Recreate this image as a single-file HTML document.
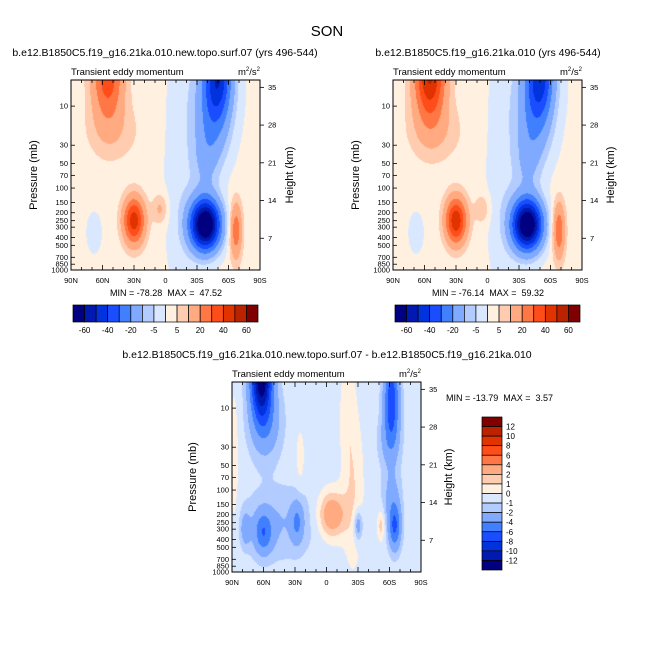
<!DOCTYPE html>
<html><head><meta charset="utf-8">
<style>
html,body{margin:0;padding:0;background:#fff;}
#wrap{position:relative;width:654px;height:654px;overflow:hidden;font-family:"Liberation Sans",sans-serif;}
canvas{position:absolute;}
svg{position:absolute;left:0;top:0;}
text{font-family:"Liberation Sans",sans-serif;fill:#000;white-space:pre;}
</style></head>
<body>
<div id="wrap">
<canvas id="c1" width="189" height="190" style="left:71px;top:80px"></canvas>
<canvas id="c2" width="189" height="190" style="left:393px;top:80px"></canvas>
<canvas id="c3" width="189" height="190" style="left:232px;top:382px"></canvas>
<svg id="s" width="654" height="654"></svg>
</div>
<script>
// ---- data ----
const palette = ["#000080","#0019b0","#0033dd","#1a4dff","#4080ff","#80aaff","#b3ccff","#d9e8ff","#fff0e0","#ffccb0","#ffaa80","#ff7744","#ff4d1a","#e03300","#bb2200","#800000"];
const levelsFull = [-60,-50,-40,-30,-20,-10,-5,0,5,10,20,30,40,50,60];
const levelsDiff = [-12,-10,-8,-6,-4,-2,-1,0,1,2,4,6,8,10,12];
const pressureTicks = [10,30,50,70,100,150,200,250,300,400,500,700,850,1000];
const heightTicks = [7,14,21,28,35];
const latTicks = [90,60,30,0,-30,-60,-90];
const latLabels = ["90N","60N","30N","0","30S","60S","90S"];
// blob features: lat, pressure(mb), amplitude
const p1Lat = [55,50,-50,-45,-38,-40,-15,30,-38,-67,5,68];
const p1Pres= [4,20,4,15,50,5,150,250,280,330,180,350];
const p1Amp = [35,6,-42,-18,-8,-6,-5,44,-80,25,10,-6];
const p1Base = 2;
const p2Lat = [55,50,-50,-45,-38,-40,-15,30,-38,-68,5,68];
const p2Pres= [4,20,4,15,50,5,150,250,280,330,180,350];
const p2Amp = [50,7,-40,-16,-8,-6,-5,46,-78,26,8,-6];
const p2Base = 2;
const p3Lat = [62,58,-62,-60,-25,-20,25,88,60,77,28,45,-5,-30,-52,-65,-62];
const p3Pres= [4,15,8,25,100,10,40,50,330,300,250,250,200,270,270,280,120];
const p3Amp = [-13,-3,-7,-2,1.5,1.0,1.0,1.2,-4.5,-2.5,-3,-1.5,4,-3,2,-5.5,-2];
const p3Base = -0.5;
const widthsLat1 = [10,18,9,11,8,22,12,7,10,4,5,5];
const widthsLnp1 = [0.9,0.6,0.8,0.9,0.6,1.5,2,0.45,0.5,0.55,0.3,0.4];
const widthsLat3 = [7,10,5,7,7,5,3,3,6,3,4,25,9,3,2.5,4,6];
const widthsLnp3 = [0.8,0.7,0.8,0.5,1.5,1.0,0.6,1.5,0.4,0.3,0.4,0.7,0.45,0.3,0.3,0.45,0.6];

const PTOP = 4.8, PBOT = 1000;
function makeField(lats,pres,amps,wl,wp,base){
  return function(lat,lnp){
    let v=base;
    for(let i=0;i<lats.length;i++){
      const a=(lat-lats[i])/wl[i], b=(lnp-Math.log(pres[i]))/wp[i];
      v+=amps[i]*Math.exp(-0.5*(a*a+b*b));
    }
    return v;
  };
}
function hexRGB(h){return [parseInt(h.substr(1,2),16),parseInt(h.substr(3,2),16),parseInt(h.substr(5,2),16)];}
const palRGB = palette.map(hexRGB);
function levelIndex(v,levels){let k=0;while(k<levels.length&&v>=levels[k])k++;return k;}
function drawField(id,f,levels){
  const c=document.getElementById(id),ctx=c.getContext('2d');
  const W=c.width,H=c.height,img=ctx.createImageData(W,H);
  const l0=Math.log(PTOP),l1=Math.log(PBOT);
  for(let j=0;j<H;j++){
    const lnp=l0+(j+0.5)/H*(l1-l0);
    for(let i=0;i<W;i++){
      const lat=90-(i+0.5)/W*180;
      const col=palRGB[levelIndex(f(lat,lnp),levels)];
      const o=(j*W+i)*4;img.data[o]=col[0];img.data[o+1]=col[1];img.data[o+2]=col[2];img.data[o+3]=255;
    }
  }
  ctx.putImageData(img,0,0);
}
drawField('c1',makeField(p1Lat,p1Pres,p1Amp,widthsLat1,widthsLnp1,p1Base),levelsFull);
drawField('c2',makeField(p2Lat,p2Pres,p2Amp,widthsLat1,widthsLnp1,p2Base),levelsFull);
drawField('c3',makeField(p3Lat,p3Pres,p3Amp,widthsLat3,widthsLnp3,p3Base),levelsDiff);

// ---- annotations ----
const S=document.getElementById('s'),NS='http://www.w3.org/2000/svg';
function el(tag,attrs,txt){const e=document.createElementNS(NS,tag);for(const k in attrs)e.setAttribute(k,attrs[k]);if(txt!==undefined)e.textContent=txt;S.appendChild(e);return e;}
function T(x,y,s,size,anchor,name,extra){const e=el('text',Object.assign({x:x,y:y,'font-size':size,'text-anchor':anchor||'start'},extra||{}),s);


return e;}

T(327,36,"SON",15,"middle","figure-title");

function panel(x0,y0,w,h,title,titleX,minmax,mmX,mmY,mmAnchor,pLabX,hLabX,pfx){
  const xOf=lat=>x0+(90-lat)/180*w;
  const yOf=p=>y0+(Math.log(p)-Math.log(PTOP))/(Math.log(PBOT)-Math.log(PTOP))*h;
  const yOfZ=z=>y0+h+6-z*5.39;
  T(titleX,y0-24,title,10.5,"middle",pfx+"-title");
  T(x0,y0-5,"Transient eddy momentum",9.5,"start",pfx+"-subtitle");
  const u=T(x0+w,y0-5,"m",9.5,"end",pfx+"-units");
  const t1=document.createElementNS(NS,'tspan');t1.setAttribute('font-size','6');t1.setAttribute('dy','-4');t1.textContent='2';u.appendChild(t1);
  const t2=document.createElementNS(NS,'tspan');t2.setAttribute('dy','4');t2.textContent='/s';u.appendChild(t2);
  const t3=document.createElementNS(NS,'tspan');t3.setAttribute('font-size','6');t3.setAttribute('dy','-4');t3.textContent='2';u.appendChild(t3);
  const r=el('rect',{x:x0,y:y0,width:w,height:h,fill:'none',stroke:'#000','stroke-width':1});
  
  
  for(let lat=90;lat>=-90;lat-=10){
    const x=xOf(lat),len=(lat%30===0)?5:3;
    el('line',{x1:x,y1:y0+h,x2:x,y2:y0+h-len,stroke:'#000','stroke-width':0.8});
    el('line',{x1:x,y1:y0,x2:x,y2:y0+len,stroke:'#000','stroke-width':0.8});
  }
  latTicks.forEach((lat,i)=>T(xOf(lat),y0+h+13,latLabels[i],7.5,"middle",pfx+"-x-tick-label"));
  pressureTicks.forEach(p=>{const y=yOf(p);
    el('line',{x1:x0,y1:y,x2:x0+4,y2:y,stroke:'#000','stroke-width':0.8});
    T(x0-3,y+2.5,String(p),7.5,"end",pfx+"-y-tick-label");});
  heightTicks.forEach(z=>{const y=yOfZ(z);
    el('line',{x1:x0+w,y1:y,x2:x0+w+4,y2:y,stroke:'#000','stroke-width':0.8});
    T(x0+w+8,y+2.5,String(z),7.5,"start",pfx+"-height-tick-label");});
  T(0,0,"Pressure (mb)",11,"middle",pfx+"-y-axis-title",{transform:`translate(${pLabX},${y0+h/2}) rotate(-90)`});
  T(0,0,"Height (km)",11,"middle",pfx+"-height-axis-title",{transform:`translate(${hLabX},${y0+h/2}) rotate(-90)`});
  T(mmX,mmY,minmax,9,mmAnchor,pfx+"-minmax");
}
panel(71,80,189,190,"b.e12.B1850C5.f19_g16.21ka.010.new.topo.surf.07 (yrs 496-544)",165,"MIN = -78.28  MAX =  47.52",166,296,"middle",37,293,"panel1");
panel(393,80,189,190,"b.e12.B1850C5.f19_g16.21ka.010 (yrs 496-544)",488,"MIN = -76.14  MAX =  59.32",488,296,"middle",359,614,"panel2");
panel(232,382,189,190,"b.e12.B1850C5.f19_g16.21ka.010.new.topo.surf.07 - b.e12.B1850C5.f19_g16.21ka.010",327,"MIN = -13.79  MAX =  3.57",446,401,"start",196,452,"panel3");

function hbar(x0,y0,w,h,levels,pfx){
  const bw=w/palette.length;
  palette.forEach((c,i)=>{const r=el('rect',{x:x0+i*bw,y:y0,width:bw,height:h,fill:c,stroke:'#000','stroke-width':0.7});
    
    });
  levels.forEach((lv,i)=>{if(i%2===0)T(x0+(i+1)*bw,y0+h+11,String(lv),8,"middle",pfx+"-label");});
}
hbar(73,305,185,17,levelsFull,"colorbar1");
hbar(395,305,185,17,levelsFull,"colorbar2");
(function(){
  const x0=482,y0=417,w=20,h=153,bh=h/palette.length;
  palette.slice().reverse().forEach((c,i)=>{const r=el('rect',{x:x0,y:y0+i*bh,width:w,height:bh,fill:c,stroke:'#000','stroke-width':0.7});
    
    });
  levelsDiff.slice().reverse().forEach((lv,i)=>T(x0+w+4,y0+(i+1)*bh+3,String(lv),8,"start","colorbar3-label"));
})();
</script>
</body></html>
